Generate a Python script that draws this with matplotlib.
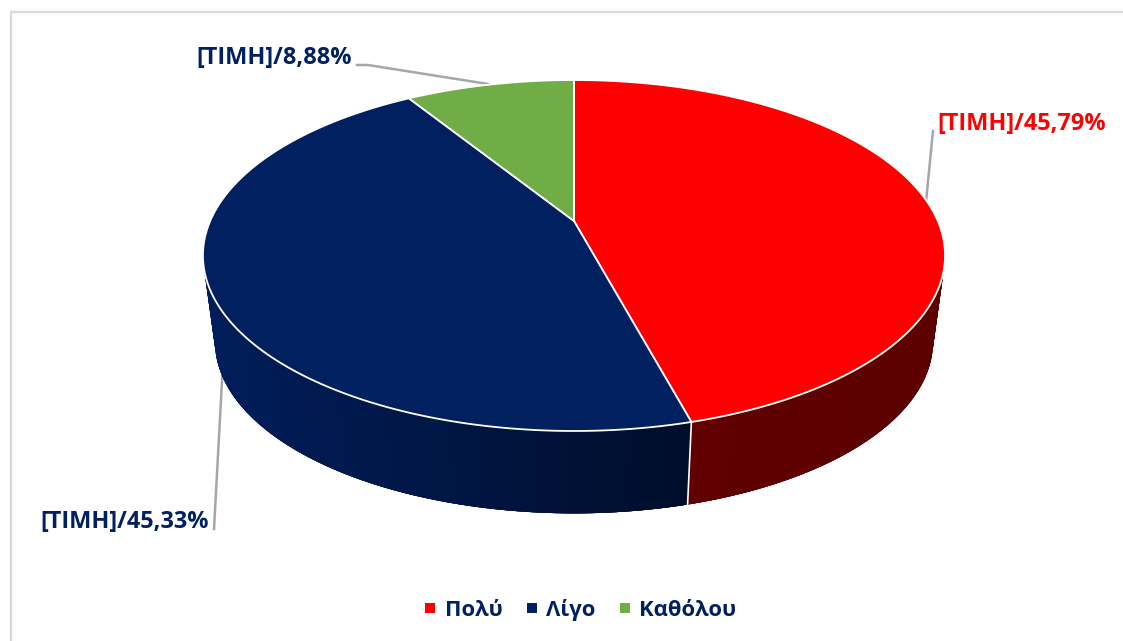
import numpy as np
import matplotlib
matplotlib.use("Agg")
import matplotlib.pyplot as plt
from matplotlib.patches import Polygon
from matplotlib.collections import PolyCollection
from matplotlib.lines import Line2D
from matplotlib.colors import to_rgb

categories = ["Πολύ", "Λίγο", "Καθόλου"]
values = [45.79, 45.33, 8.88]
labels = ["[ΤΙΜΗ]/45,79%", "[ΤΙΜΗ]/45,33%", "[ΤΙΜΗ]/8,88%"]
colors = ["#FF0000", "#002060", "#70AD47"]
label_colors = ["#FF0000", "#002060", "#002060"]
side_left = ["#600000", "#001E5C", "#4a7530"]
side_right = ["#5C0000", "#000E2C", "#4a7530"]

FONT = ["Open Sans", "Noto Sans", "DejaVu Sans"]
K = 0.1966
CX = 574.0

def top_pt(th):
    u, v = np.sin(th), np.cos(th)
    w = 1 + K * v
    return np.column_stack([CX + 363.8 * u / w, 221 - 168.7 * v / w])

def bot_pt(th):
    u, v = np.sin(th), np.cos(th)
    w = 1 + K * v
    return np.column_stack([CX + 352 * u / w, 308 - 165 * v / w])

fig = plt.figure(figsize=(11.23, 6.41), dpi=100)
ax = fig.add_axes([0, 0, 1, 1])
ax.set_xlim(0, 1123)
ax.set_ylim(641, 0)
ax.axis("off")

# chart frame
ax.plot([10.5, 10.5, 1123], [641, 12, 12], color="#D9D9D9", lw=1.6, zorder=0,
        solid_joinstyle="miter")

# leader lines
leader = "#A6A6A6"
ax.plot([357, 368, 488], [65, 65, 84], color=leader, lw=1.8, zorder=1)
ax.plot([933, 926], [131, 202], color=leader, lw=1.8, zorder=1)
ax.plot([214, 222.5], [529, 372], color=leader, lw=1.8, zorder=1)

# angles: clockwise from the top of the disc
edges = np.radians(np.concatenate([[0], np.cumsum(values)]) * 3.6)

# side wall
for i, col in enumerate(colors):
    a0, a1 = edges[i], edges[i + 1]
    lo, hi = max(a0, np.pi / 2), min(a1, 3 * np.pi / 2)
    if hi <= lo:
        continue
    th = np.linspace(lo, hi, 120)
    t, b = top_pt(th), bot_pt(th)
    n = len(th) - 1
    order = range(n) if col != colors[1] else range(n - 1, -1, -1)
    quads = []
    for j in order:
        e = min(j + 4, n) if col != colors[1] else j + 1
        s = j if col != colors[1] else max(j - 3, 0)
        quads.append(np.vstack([t[s:e + 1], b[s:e + 1][::-1]]))
    c0, c1 = np.array(to_rgb(side_left[i])), np.array(to_rgb(side_right[i]))
    xm = np.array([q[:, 0].mean() for q in quads])
    f = np.clip((xm - xm.min()) / max(np.ptp(xm), 1), 0, 1)[:, None]
    fc = c0 * (1 - f) + c1 * f
    ax.add_collection(PolyCollection(quads, facecolors=fc, edgecolors="none", linewidths=0, zorder=2))

# seam between the side walls
seam = edges[1]
st, sb = top_pt(np.array([seam])), bot_pt(np.array([seam]))
ax.plot([st[0, 0], sb[0, 0]], [st[0, 1], sb[0, 1]], color="white", lw=1.2, zorder=3)

# top disc
apex = np.array([[CX, 221.0]])
for i, col in enumerate(colors):
    th = np.linspace(edges[i], edges[i + 1], 300)
    ax.add_patch(Polygon(np.vstack([apex, top_pt(th)]), closed=True, facecolor=col,
                         edgecolor="white", lw=1.3, joinstyle="round", zorder=4))

# data labels
ax.text(937, 124.5, labels[0], color=label_colors[0], fontsize=16.9, fontweight="bold",
        family=FONT, va="center", ha="left", zorder=6)
ax.text(40, 522.5, labels[1], color=label_colors[1], fontsize=16.9, fontweight="bold",
        family=FONT, va="center", ha="left", zorder=6)
ax.text(196, 58.5, labels[2], color=label_colors[2], fontsize=16.9, fontweight="bold",
        family=FONT, va="center", ha="left", zorder=6)

# legend
handles = [Line2D([], [], linestyle="none", marker="s", markersize=7, color=c,
                  markeredgewidth=0) for c in colors]
leg = ax.legend(handles, categories, ncol=3, frameon=False, loc="center",
                bbox_to_anchor=(579 / 1123, 1 - 610 / 641),
                prop={"family": FONT, "weight": "bold", "size": 15.8},
                labelcolor="#002060", handletextpad=0.26, columnspacing=0.93, handlelength=0.8)

fig.savefig("out.png", dpi=100)
